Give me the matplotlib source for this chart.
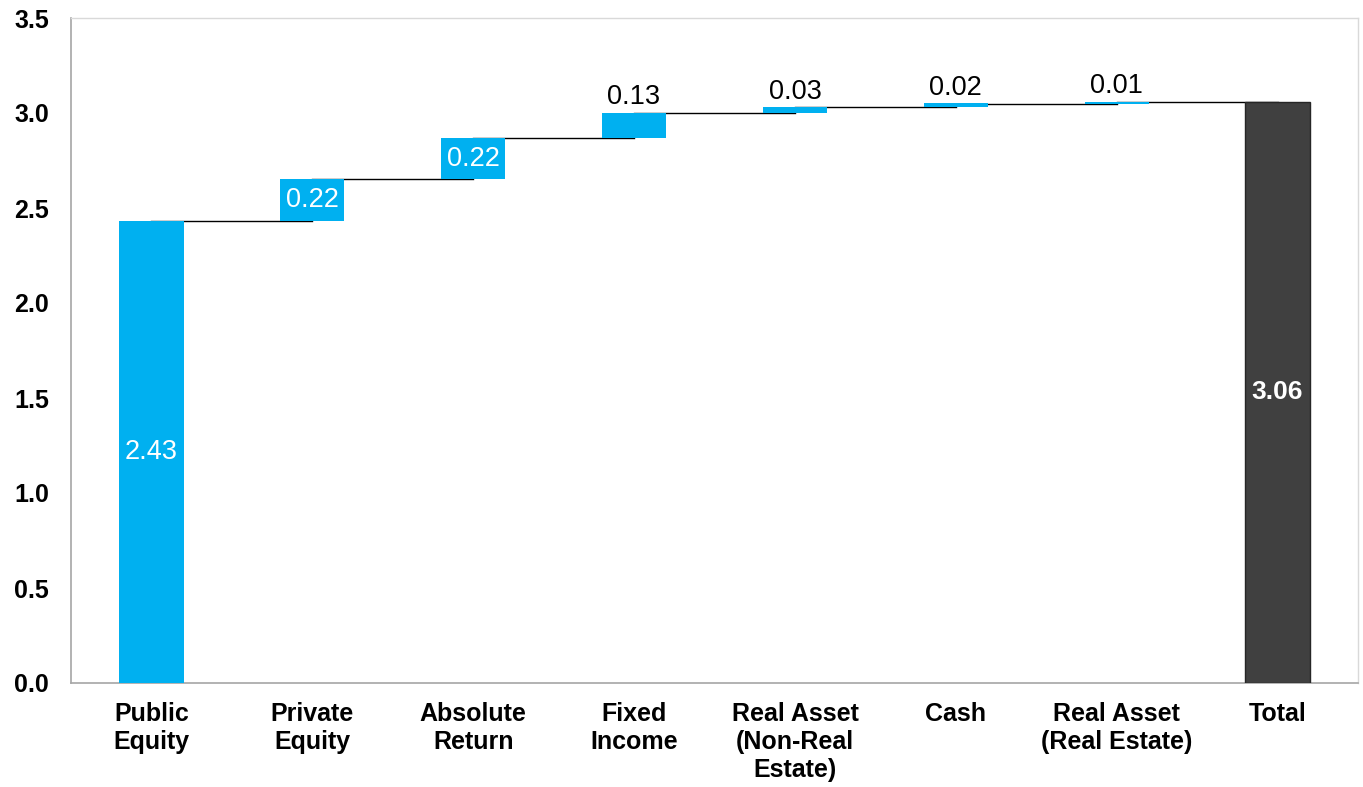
import matplotlib
matplotlib.use("Agg")
import matplotlib.pyplot as plt
import numpy as np

plt.rcParams['font.family'] = ['Liberation Sans', 'DejaVu Sans']

categories = ["Public\nEquity", "Private\nEquity", "Absolute\nReturn", "Fixed\nIncome",
              "Real Asset\n(Non-Real\nEstate)", "Cash", "Real Asset\n(Real Estate)", "Total"]
contributions = [2.43, 0.22, 0.22, 0.13, 0.03, 0.02, 0.01]
total = 3.06
labels = ["2.43", "0.22", "0.22", "0.13", "0.03", "0.02", "0.01", "3.06"]
yticks = [0.0, 0.5, 1.0, 1.5, 2.0, 2.5, 3.0, 3.5]

blue = "#00B0F0"
dark = "#404040"

fig = plt.figure(figsize=(13.63, 7.87), dpi=100)
ax = fig.add_axes([71/1363, 1 - 683/787, (1358-71)/1363, (683-18)/787])

x = np.arange(len(categories))
cum = np.cumsum(contributions)
bottoms = np.concatenate([[0], cum[:-1]])
width = 0.4

ax.bar(x[:-1], contributions, bottom=bottoms, width=width, color=blue, zorder=3)
ax.bar(x[-1], total, width=width, color=dark, edgecolor="#262626", linewidth=1, zorder=3)

# connectors
for i in range(len(contributions)):
    ax.plot([x[i], x[i+1]], [cum[i], cum[i]], color="black", lw=1, zorder=2)

# labels
for i, v in enumerate(contributions):
    if v >= 0.2:
        ax.text(x[i], bottoms[i] + v/2, labels[i], ha="center", va="center",
                color="white", fontsize=19.5, zorder=4)
    else:
        ax.annotate(labels[i], (x[i], cum[i]), xytext=(0, 2), textcoords="offset points",
                    ha="center", va="bottom", color="black", fontsize=19.5, zorder=4)
ax.text(x[-1], total/2, labels[-1], ha="center", va="center", color="white",
        fontsize=19, fontweight="bold", zorder=4)

ax.set_xlim(-0.5, len(categories) - 0.5)
ax.set_ylim(0, 3.5)
ax.set_yticks(yticks)
ax.set_yticklabels([f"{t:.1f}" for t in yticks], fontsize=18, fontweight="bold")
ax.set_xticks(x)
ax.set_xticklabels(categories, fontsize=18, fontweight="bold", linespacing=1.2, va="top")
ax.tick_params(axis="both", length=0)
ax.tick_params(axis="y", pad=16)
ax.tick_params(axis="x", pad=14)

for s in ["left", "bottom"]:
    ax.spines[s].set_color("#a6a6a6")
    ax.spines[s].set_linewidth(1.2)
for s in ["top", "right"]:
    ax.spines[s].set_color("#d9d9d9")
    ax.spines[s].set_linewidth(1.0)

fig.savefig("out.png", dpi=100)
